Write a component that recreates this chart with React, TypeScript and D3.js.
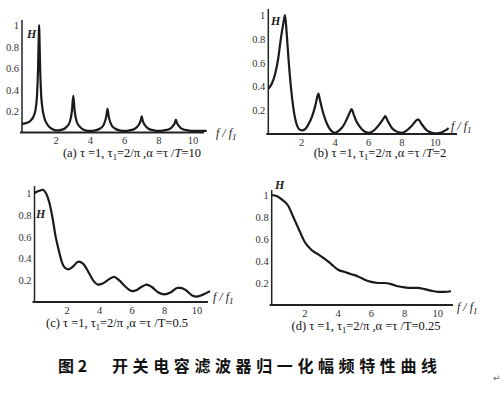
import React from "react";
import * as d3 from "d3";

// panel data (f / f1 vs normalised H)
const fA = [0, 0.3, 0.5, 0.7, 0.8, 0.88, 0.94, 0.98, 1.0, 1.02, 1.06, 1.12, 1.2, 1.3, 1.5, 1.8, 2.0, 2.3, 2.6, 2.8, 2.92, 3.0, 3.08, 3.2, 3.4, 3.7, 4.0, 4.3, 4.6, 4.8, 4.93, 5.0, 5.07, 5.2, 5.4, 5.7, 6.0, 6.3, 6.6, 6.82, 6.94, 7.0, 7.06, 7.18, 7.4, 7.7, 8.0, 8.3, 8.6, 8.82, 8.94, 9.0, 9.06, 9.18, 9.4, 9.7, 10.0, 10.4, 10.8];
const hA = [0.08, 0.09, 0.11, 0.16, 0.22, 0.35, 0.6, 0.9, 1.0, 0.9, 0.6, 0.35, 0.22, 0.14, 0.07, 0.03, 0.02, 0.025, 0.05, 0.1, 0.2, 0.34, 0.2, 0.1, 0.05, 0.02, 0.015, 0.02, 0.04, 0.08, 0.15, 0.22, 0.15, 0.08, 0.04, 0.02, 0.015, 0.02, 0.035, 0.07, 0.11, 0.15, 0.11, 0.07, 0.035, 0.02, 0.015, 0.02, 0.03, 0.06, 0.09, 0.12, 0.09, 0.06, 0.03, 0.02, 0.015, 0.015, 0.015];

const fB = [0, 0.2, 0.4, 0.6, 0.75, 0.9, 1.0, 1.1, 1.2, 1.35, 1.5, 1.7, 1.85, 2.0, 2.2, 2.4, 2.6, 2.8, 2.95, 3.0, 3.1, 3.3, 3.5, 3.75, 4.0, 4.25, 4.5, 4.75, 4.95, 5.0, 5.1, 5.3, 5.6, 6.0, 6.4, 6.7, 6.95, 7.0, 7.15, 7.4, 7.7, 8.0, 8.3, 8.6, 8.95, 9.0, 9.15, 9.5, 9.8, 10.0, 10.3, 10.6, 10.8];
const hB = [0.38, 0.42, 0.5, 0.64, 0.8, 0.93, 1.0, 0.85, 0.65, 0.4, 0.22, 0.08, 0.04, 0.03, 0.04, 0.08, 0.14, 0.23, 0.32, 0.34, 0.28, 0.17, 0.09, 0.03, 0.01, 0.03, 0.07, 0.14, 0.2, 0.21, 0.17, 0.1, 0.04, 0.01, 0.04, 0.09, 0.14, 0.15, 0.11, 0.05, 0.02, 0.01, 0.03, 0.07, 0.12, 0.12, 0.09, 0.03, 0.01, 0.005, 0.01, 0.03, 0.05];

const fC = [0, 0.3, 0.5, 0.7, 0.9, 1.1, 1.3, 1.5, 1.7, 1.9, 2.1, 2.4, 2.7, 3.0, 3.3, 3.6, 3.9, 4.2, 4.6, 4.9, 5.2, 5.6, 6.0, 6.3, 6.6, 6.9, 7.2, 7.6, 8.0, 8.4, 8.8, 9.0, 9.3, 9.7, 10.0, 10.4, 10.8];
const hC = [1.0, 1.02, 1.03, 1.0, 0.92, 0.78, 0.6, 0.47, 0.36, 0.31, 0.3, 0.33, 0.37, 0.35, 0.28, 0.2, 0.16, 0.17, 0.21, 0.23, 0.2, 0.14, 0.1, 0.11, 0.14, 0.16, 0.14, 0.09, 0.07, 0.09, 0.13, 0.13, 0.11, 0.06, 0.05, 0.07, 0.1];

const fD = [0, 0.3, 0.6, 1.0, 1.3, 1.6, 2.0, 2.4, 2.8, 3.2, 3.6, 4.0, 4.4, 4.8, 5.2, 5.6, 6.0, 6.4, 6.8, 7.2, 7.6, 8.0, 8.4, 8.8, 9.2, 9.6, 10.0, 10.4, 10.8];
const hD = [1.0, 0.99, 0.96, 0.9, 0.8, 0.7, 0.57, 0.5, 0.46, 0.42, 0.37, 0.32, 0.3, 0.28, 0.26, 0.23, 0.21, 0.2, 0.2, 0.19, 0.17, 0.16, 0.155, 0.155, 0.145, 0.13, 0.12, 0.12, 0.125];

const xTicks = [2, 4, 6, 8, 10];
const yTicks = [0.2, 0.4, 0.6, 0.8, 1];
const yTickLabels = ["0.2", "0.4", "0.6", "0.8", "1"];

const serif = "'Liberation Serif', 'DejaVu Serif', serif";

type PanelProps = {
  f: number[];
  h: number[];
  ox: number; // pixel of f=0
  ux: number; // px per unit f
  oy: number; // pixel of H=0
  y1: number; // pixel of H=1
  axisTop: number;
  axisRight: number;
  hPos: [number, number];
  fPos: [number, number];
  cap: [number, number];
  tag: string;
  alpha: string;
  italicT: boolean;
};

const Panel = (p: PanelProps) => {
  const x = d3.scaleLinear().domain([0, 1]).range([p.ox, p.ox + p.ux]);
  const y = d3.scaleLinear().domain([0, 1]).range([p.oy, p.y1]);
  const line = d3
    .line<number>()
    .x((_, i) => x(p.f[i]))
    .y((d) => y(d))
    .curve(d3.curveMonotoneX);

  return (
    <g>
      <line x1={p.ox} x2={p.ox} y1={p.oy} y2={p.axisTop} stroke="#222" strokeWidth={1.5} />
      <line x1={p.ox - 2} x2={p.axisRight} y1={p.oy} y2={p.oy} stroke="#222" strokeWidth={2} />
      <path d={line(p.h) || ""} fill="none" stroke="#1a1a1a" strokeWidth={2.2} />
      {yTicks.map((t, i) => (
        <text key={t} x={p.ox - 3} y={y(t) + 4} textAnchor="end" fontSize={10.5} fontFamily={serif} fill="#333">
          {yTickLabels[i]}
        </text>
      ))}
      {xTicks.map((t) => (
        <text key={t} x={x(t)} y={p.oy + 11.5} textAnchor="middle" fontSize={10.5} fontFamily={serif} fill="#333">
          {t}
        </text>
      ))}
      <text x={p.hPos[0]} y={p.hPos[1]} fontSize={12} fontStyle="italic" fontWeight="bold" fontFamily={serif} fill="#222">
        H
      </text>
      <text x={p.fPos[0]} y={p.fPos[1]} fontSize={12} fontStyle="italic" fontFamily={serif} fill="#222">
        f / f<tspan fontSize={9} dy={3}>1</tspan>
      </text>
      <text x={p.cap[0]} y={p.cap[1]} textAnchor="middle" fontSize={12.5} fontFamily={serif} fill="#111">
        {p.tag} τ =1, τ<tspan fontSize={8.5} dy={3}>1</tspan>
        <tspan dy={-3}>=2/π ,α =τ /</tspan>
        <tspan fontStyle={p.italicT ? "italic" : "normal"}>T</tspan>={p.alpha}
      </text>
    </g>
  );
};

const App = () => {
  return (
    <svg width={504} height={394} style={{ position: "absolute", left: 0, top: 0, background: "#fff" }}>
      <rect width={504} height={394} fill="#fff" />
      <Panel f={fA} h={hA} ox={22} ux={17.1} oy={132.5} y1={25} axisTop={20} axisRight={204}
        hPos={[27, 38]} fPos={[216, 137]} cap={[132, 157]} tag="(a)" alpha="10" italicT={true} />
      <Panel f={fB} h={hB} ox={268.3} ux={16.7} oy={134} y1={15} axisTop={9} axisRight={457}
        hPos={[271, 25]} fPos={[451, 130]} cap={[380, 157]} tag="(b)" alpha="2" italicT={true} />
      <Panel f={fC} h={hC} ox={34.5} ux={16.25} oy={302} y1={193} axisTop={186} axisRight={208}
        hPos={[36, 218]} fPos={[213, 301]} cap={[117, 327]} tag="(c)" alpha="0.5" italicT={false} />
      <Panel f={fD} h={hD} ox={271.7} ux={16.6} oy={305} y1={195} axisTop={190} axisRight={453}
        hPos={[275, 189]} fPos={[457, 311]} cap={[366, 330]} tag="(d)" alpha="0.25" italicT={false} />
      <text x={58} y={372} fontSize={16} fontWeight="bold" fontFamily="'Noto Sans CJK SC', sans-serif" fill="#111">
        图 2
      </text>
      <text x={112} y={372} fontSize={16} fontWeight="bold" letterSpacing={4.6} fontFamily="'Noto Sans CJK SC', sans-serif" fill="#111">
        开关电容滤波器归一化幅频特性曲线
      </text>
      <text x={493} y={381} fontSize={9} fill="#666" fontFamily="'DejaVu Sans', sans-serif">↵</text>
    </svg>
  );
};

export default App;
